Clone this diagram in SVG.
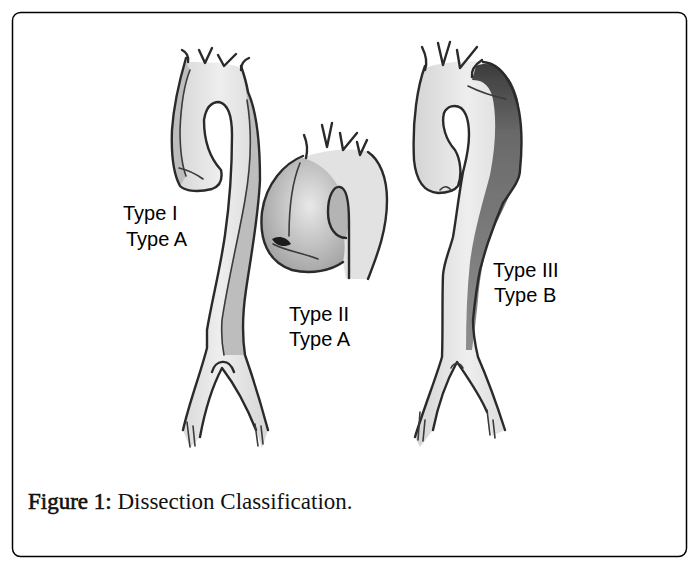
<svg xmlns="http://www.w3.org/2000/svg" width="698" height="572" viewBox="0 0 698 572">
<defs>
<style>
.wall{fill:none;stroke:#2a2a2a;stroke-width:2.4;stroke-linecap:round;stroke-linejoin:round}
.thin{fill:none;stroke:#3a3a3a;stroke-width:1.6;stroke-linecap:round;stroke-linejoin:round}
.lumen{fill:#e2e2e2}
.false{fill:#bdbdbd}
.label{font-family:"Liberation Sans",Arial,sans-serif;font-size:20px;fill:#000}
.cap{font-family:"Liberation Serif","Times New Roman",serif;font-size:23px;fill:#111}
</style>
<filter id="soft" x="-5%" y="-5%" width="110%" height="110%"><feGaussianBlur stdDeviation="0.6"/></filter>
<linearGradient id="lg" x1="0" y1="0" x2="1" y2="0">
<stop offset="0" stop-color="#d4d4d4"/><stop offset="0.5" stop-color="#eeeeee"/><stop offset="1" stop-color="#d6d6d6"/>
</linearGradient>
<linearGradient id="fl3" x1="0" y1="0" x2="0" y2="1">
<stop offset="0" stop-color="#3c3c3c"/><stop offset="0.25" stop-color="#6a6a6a"/><stop offset="1" stop-color="#8e8e8e"/>
</linearGradient>
<radialGradient id="bulb" cx="0.58" cy="0.42" r="0.62">
<stop offset="0" stop-color="#e8e8e8"/><stop offset="1" stop-color="#a4a4a4"/>
</radialGradient>
</defs>
<rect x="0" y="0" width="698" height="572" fill="#fff"/>
<rect x="12.5" y="12.5" width="674" height="544" rx="8" fill="none" stroke="#000" stroke-width="1.5"/>

<g id="typeI" filter="url(#soft)">
<path fill="url(#lg)" d="M186,62 C181,75 174,100 172,130 C171,155 174,175 180,186 C186,192 200,192 212,189 C220,186 223,180 221,170 C210,158 204,140 204,120 C206,107 212,102 219,102 C228,104 232,115 232,135 C232,170 230,200 225,235 C220,270 212,300 207,330 L207,348 C200,375 190,400 183,430 L190,448 L200,437 C205,410 213,385 222,368 C235,385 248,410 256,430 L262,448 L268,430 C260,400 252,375 245,355 C242,335 243,310 246,290 C251,255 258,220 260,180 C260,140 256,110 248,92 C246,80 243,72 241,68 C230,62 200,62 186,62 Z"/>
<path class="false" d="M186,62 C181,75 174,100 172,130 C171,155 174,175 180,186 L186,176 C182,165 180,150 180,130 C181,105 184,85 190,70 Z"/>
<path class="false" d="M241,68 C243,72 246,80 248,92 C256,110 260,140 260,180 C258,220 251,255 246,290 C243,310 242,335 245,355 L224,355 C222,345 221,335 222,320 C228,280 238,240 245,200 C252,160 252,130 247,100 C246,88 244,80 241,68 Z"/>
<path class="wall" d="M186,58 C181,75 174,100 172,130 C171,155 174,175 180,186 C186,192 200,192 212,189 C220,186 223,180 221,170 C210,158 204,140 204,120 C206,107 212,102 219,102 C228,104 232,115 232,135 C232,170 230,200 225,235 C220,270 212,300 207,330 L207,348 C200,375 190,400 183,430"/>
<path class="wall" d="M200,437 C205,410 213,385 222,368 C235,385 248,410 256,430"/>
<path class="wall" d="M268,430 C260,400 252,375 245,355 C242,335 243,310 246,290 C251,255 258,220 260,180 C260,140 256,110 248,92 C246,80 243,72 241,66"/>
<path class="thin" d="M190,70 C184,85 181,105 180,130 C180,150 182,165 186,176"/>
<path class="thin" d="M247,100 C252,130 252,160 245,200 C238,240 228,280 222,320 C221,335 222,345 224,355"/>
<path class="thin" d="M179,168 C188,170 196,174 203,179"/>
<path class="wall" stroke-width="3" d="M212,372 C215,360 229,357 234,372"/>
<path class="wall" d="M182,50 C186,52 189,56 188,62"/>
<path class="wall" d="M199,50 L205,63 L212,48"/>
<path class="wall" d="M218,55 L224,66 L236,54"/>
<path class="wall" d="M249,58 C244,60 241,64 241,70"/>
<path class="thin" d="M187,422 L190,447 M193,426 L195,446 M255,424 L258,446 M261,426 L263,444"/>
</g>

<g id="typeII" filter="url(#soft)">
<path class="lumen" d="M303,158 C285,163 266,183 262,212 C259,240 268,262 292,270 C312,275 332,270 343,262 L346,279 L368,279 C376,258 387,232 387,200 C387,178 380,160 368,152 C355,147 320,150 303,158 Z"/>
<path fill="url(#bulb)" d="M303,158 C285,163 266,183 262,212 C259,240 268,262 292,270 C312,275 332,270 343,262 C345,252 345,244 344,238 C334,236 328,226 328,212 C328,196 333,188 338,186 C330,172 318,162 303,158 Z"/>
<path fill="#b4b4b4" d="M340,187 C334,186 328,195 328,212 C328,228 336,238 346,238 L349,222 C349,200 346,188 340,187 Z"/>
<path class="wall" d="M303,156 C285,163 266,183 262,212 C259,240 268,262 292,270 C312,275 332,270 343,262"/>
<path class="wall" d="M368,152 C380,160 387,178 387,200 C387,232 376,258 368,279"/>
<path class="wall" d="M349,278 L349,222 C349,200 346,188 340,187 C334,186 328,195 328,212 C328,228 336,238 346,238"/>
<path class="thin" d="M300,163 C293,180 289,205 289,236"/>
<path fill="#1e1e1e" d="M272,239 C278,235 287,237 291,244 C284,248 276,246 272,239 Z"/>
<path class="thin" d="M273,244 C286,251 300,252 318,259"/>
<path class="wall" d="M304,135 C307,142 308,150 306,158"/>
<path class="wall" d="M322,125 L327,147 L332,123"/>
<path class="wall" d="M340,133 L343,150 L357,133"/>
<path class="wall" d="M357,142 L360,155 L367,140"/>
</g>

<g id="typeIII" filter="url(#soft)">
<path fill="url(#lg)" d="M425,68 C418,85 412,118 414,160 C416,180 424,192 438,193 C448,193 455,190 458,186 C462,176 461,160 455,150 C446,140 441,125 444,113 C447,106 455,104 461,108 C467,113 469,122 469,135 C469,150 466,160 463,172 C458,200 456,220 453,237 C449,252 444,262 443,275 C442,300 443,330 442,357 C437,375 425,405 415,437 L420,447 L433,430 C438,405 447,380 457,362 C468,378 480,395 487,412 L492,436 L505,430 C497,405 488,380 478,357 C474,335 473,325 473,320 C475,300 477,285 480,270 C484,255 487,245 490,237 C495,222 500,210 503,203 C512,190 520,180 520,170 C523,140 522,110 512,88 C505,72 495,63 483,62 C470,60 440,62 425,68 Z"/>
<path fill="url(#fl3)" d="M476,66 C495,58 512,75 518,100 C523,130 522,160 519,175 C510,195 500,215 490,237 C484,255 480,275 478,300 C476,320 474,335 472,350 L466,350 C466,320 467,290 470,262 C474,232 482,205 490,175 C496,145 497,115 492,95 C488,84 482,80 472,80 Z"/>
<path class="wall" d="M425,66 C418,85 412,118 414,160 C416,180 424,192 438,193 C448,193 455,190 458,186 C462,176 461,160 455,150 C446,140 441,125 444,113 C447,106 455,104 461,108 C467,113 469,122 469,135 C469,150 466,160 463,172 C458,200 456,220 453,237 C449,252 444,262 443,275 C442,300 443,330 442,357 C437,375 425,405 415,437"/>
<path class="wall" d="M433,430 C438,405 447,380 457,362 C468,378 480,395 487,412"/>
<path class="wall" d="M505,430 C497,405 488,380 478,357 C474,340 473,330 473,320 C475,300 477,285 480,270 C484,255 487,245 490,237 C495,222 500,210 503,203 C512,190 520,180 520,170 C523,140 522,110 512,88 C505,72 495,63 483,62"/>
<path class="thin" d="M468,86 C480,92 492,96 506,99"/>
<path class="thin" d="M440,190 C444,185 448,186 452,191"/>
<path class="wall" d="M422,47 C426,55 428,62 425,70"/>
<path class="wall" d="M438,43 L443,65 L450,42"/>
<path class="wall" d="M457,50 L460,68 L477,47"/>
<path class="wall" d="M482,60 C476,64 471,70 472,77"/>
<path class="thin" d="M451,368 C454,362 460,362 463,368"/>
<path class="thin" d="M420,412 L418,440 M425,420 L423,441 M487,410 L490,435 M493,420 L495,438"/>
</g>

<g id="labels">
<text class="label" x="123" y="220">Type I</text>
<text class="label" x="126" y="246">Type A</text>
<text class="label" x="289" y="321">Type II</text>
<text class="label" x="289" y="346">Type A</text>
<text class="label" x="493" y="277">Type III</text>
<text class="label" x="494" y="302">Type B</text>
</g>
<g id="caption">
<text class="cap" x="28" y="509"><tspan stroke="#111" stroke-width="0.6">Figure 1:</tspan> Dissection Classification.</text>
</g>
</svg>
